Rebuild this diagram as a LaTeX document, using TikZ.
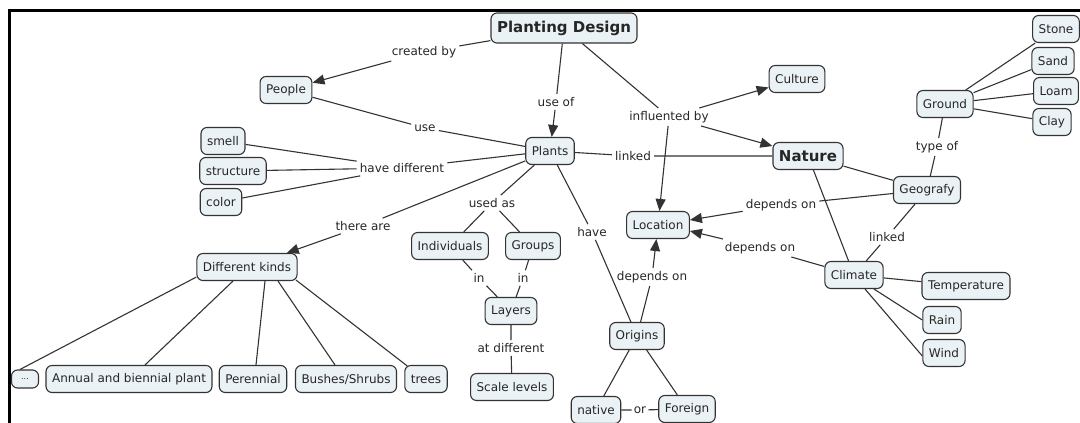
\documentclass[tikz,border=0pt]{standalone}
\usepackage{fontspec}
\setmainfont{DejaVu Sans}
\usetikzlibrary{arrows.meta}
\definecolor{cfill}{HTML}{EBF2F6}
\definecolor{cline}{HTML}{333333}
\tikzset{
  concept/.style={draw=cline, fill=cfill, rounded corners=6pt, line width=1.1pt,
    inner xsep=6pt, inner ysep=2pt, minimum height=27pt, text=black!85,
    font=\fontsize{12}{14}\selectfont},
  bigconcept/.style={concept, minimum height=30pt, font=\fontsize{15}{17}\selectfont\bfseries},
  linkword/.style={inner sep=3pt, text=black!85, font=\fontsize{12}{14}\selectfont},
  link/.style={draw=cline, line width=1.1pt},
}

\begin{document}
\begin{tikzpicture}[x=1pt, y=-1pt, >={Triangle[length=12pt,width=10pt]}]
      \useasboundingbox (0,0) rectangle (1080,423);
      \draw[line width=3pt] (9,425) -- (9,10) -- (1082,10);
      % concepts
      \node[bigconcept] (pd) at (564,28) {Planting Design};
      \node[concept] (people) at (286,90) {People};
      \node[concept] (smell) at (223,141) {smell};
      \node[concept] (structure) at (233,171) {structure};
      \node[concept] (color) at (221,202) {color};
      \node[concept] (plants) at (550,151) {Plants};
      \node[concept] (culture) at (797,79) {Culture};
      \node[bigconcept, minimum height=27pt] (nature) at (808,156) {Nature};
      \node[concept] (ground) at (945,104) {Ground};
      \node[concept] (stone) at (1056,29) {Stone};
      \node[concept] (sand) at (1053,61) {Sand};
      \node[concept] (loam) at (1056,91) {Loam};
      \node[concept] (clay) at (1052,122) {Clay};
      \node[concept] (geo) at (927,190) {Geografy};
      \node[concept] (location) at (658,225) {Location};
      \node[concept] (climate) at (854,275) {Climate};
      \node[concept] (temp) at (966,286) {Temperature};
      \node[concept] (rain) at (942,320) {Rain};
      \node[concept] (wind) at (944,353) {Wind};
      \node[concept] (indiv) at (450,246) {Individuals};
      \node[concept] (groups) at (533,246) {Groups};
      \node[concept] (layers) at (511,311) {Layers};
      \node[concept] (scale) at (512,387) {Scale levels};
      \node[concept] (origins) at (637,336) {Origins};
      \node[concept] (native) at (596,410) {native};
      \node[concept] (foreign) at (687,409) {Foreign};
      \node[concept] (kinds) at (247,267) {Different kinds};
      \node[concept, minimum height=18pt, minimum width=27pt, inner xsep=4pt, font=\fontsize{8}{9}\selectfont] (dots) at (25,379) {...};
      \node[concept] (annual) at (129,379) {Annual and biennial plant};
      \node[concept] (perennial) at (253,379) {Perennial};
      \node[concept] (bushes) at (346,379) {Bushes/Shrubs};
      \node[concept] (trees) at (426,379) {trees};
      % linking words
      \node[linkword] (lcreated) at (424,52) {created by};
      \node[linkword] (luseof) at (556,102) {use of};
      \node[linkword] (linfl) at (669,117) {influented by};
      \node[linkword] (luse) at (425,128) {use};
      \node[linkword] (lhavediff) at (402,168) {have different};
      \node[linkword] (llinked) at (633,156) {linked};
      \node[linkword] (ltype) at (937,147) {type of};
      \node[linkword] (ldepgeo) at (781,205) {depends on};
      \node[linkword] (ldepcli) at (760,248) {depends on};
      \node[linkword] (llinkedgc) at (887,237) {linked};
      \node[linkword] (lthere) at (363,226) {there are};
      \node[linkword] (lusedas) at (492,203) {used as};
      \node[linkword] (linind) at (479,278) {in};
      \node[linkword] (lingrp) at (523,278) {in};
      \node[linkword] (lat) at (511,348) {at different};
      \node[linkword] (lhave) at (592,232) {have};
      \node[linkword] (ldeporig) at (652,277) {depends on};
      \node[linkword, inner xsep=2pt] (lor) at (640,410) {or};
      % links
      \draw[link] (pd) -- (lcreated);
      \draw[link,->] (lcreated) -- (people);
      \draw[link] (pd) -- (luseof);
      \draw[link,->] (luseof) -- (plants);
      \draw[link] (pd) -- (linfl);
      \draw[link,->] (linfl) -- (culture);
      \draw[link,->] (linfl) -- (nature);
      \draw[link,->] (linfl) -- (location);
      \draw[link] (people) -- (luse) -- (plants);
      \draw[link] (plants) -- (lhavediff);
      \foreach \c in {smell,structure,color}
        \draw[link] (lhavediff) -- (\c);
      \draw[link] (plants) -- (llinked) -- (nature);
      \draw[link] (plants) -- (lthere);
      \draw[link,->] (lthere) -- (kinds);
      \draw[link] ([yshift=4pt]kinds.south west) -- ([xshift=-5pt]dots.north);
      \draw[link] ([xshift=-14pt]kinds.south) -- ([xshift=16pt]annual.north);
      \draw[link] ([xshift=18pt]kinds.south) -- ([xshift=3pt]perennial.north);
      \draw[link] ([xshift=31pt]kinds.south) -- ([xshift=-11pt]bushes.north);
      \draw[link] ([xshift=49pt,yshift=1pt]kinds.south) -- ([xshift=3pt,yshift=-1pt]trees.north west);
      \draw[link] (plants) -- (lusedas);
      \draw[link] (lusedas) -- (indiv);
      \draw[link] (lusedas) -- (groups);
      \draw[link] (indiv) -- (linind) -- (layers);
      \draw[link] (groups) -- (lingrp) -- (layers);
      \draw[link] (layers) -- (lat) -- (scale);
      \draw[link] (plants) -- (lhave) -- (origins);
      \draw[link] (origins) -- (ldeporig);
      \draw[link,->] (ldeporig) -- (location);
      \draw[link] (origins) -- (native);
      \draw[link] (origins) -- (foreign);
      \draw[link] (native) -- (lor) -- (foreign);
      \draw[link] (nature) -- (geo);
      \draw[link] (nature) -- (climate);
      \draw[link] (geo) -- (ldepgeo);
      \draw[link,->] (ldepgeo) -- ([yshift=5pt]location.east);
      \draw[link] (climate) -- (ldepcli);
      \draw[link,->] (ldepcli) -- ([yshift=-6pt]location.east);
      \draw[link] (ground) -- (ltype) -- (geo);
      \draw[link] (geo) -- (llinkedgc) -- (climate);
      \foreach \c in {stone,sand,loam,clay}
        \draw[link] (ground) -- (\c);
      \draw[link] (climate) -- (temp);
      \draw[link] ([xshift=20pt]climate.south) -- (rain.west);
      \draw[link] ([xshift=11pt]climate.south) -- ([yshift=-3pt]wind.west);
\end{tikzpicture}
\end{document}
